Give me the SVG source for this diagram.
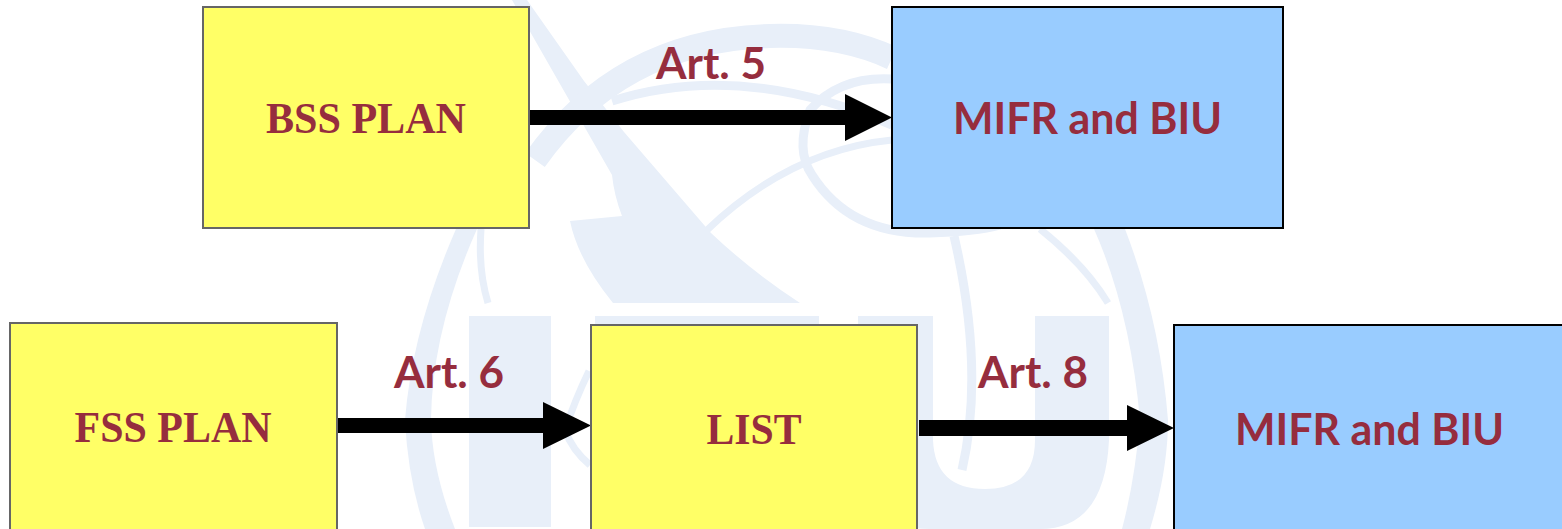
<svg xmlns="http://www.w3.org/2000/svg" width="1562" height="529" viewBox="0 0 1562 529">
<defs><style>
.wf{fill:#E8EFF9;stroke:none}
.ws{fill:none;stroke:#E8EFF9}
.y{fill:#FFFF66;stroke:#666666;stroke-width:2}
.b{fill:#99CCFF;stroke:#000000;stroke-width:2}
.a{fill:#000000;stroke:none}
text{fill:#962D3E;font-weight:700;text-anchor:middle}
.se{font-family:"Liberation Serif","Times New Roman",serif;font-size:44px}
.sa{font-family:Lato,"Liberation Sans",sans-serif;font-size:44px}
</style></defs>
<rect width="1562" height="529" fill="#FFFFFF"/>
<g id="watermark">
<path class="wf" d="M512 0L527 0L584 81L624 132L711 233Q750 270 800 303L613 303Q578 260 570 221L622 216Q614 195 612 175Z"/>
<path class="wf" d="M469 316H551V527H469ZM595 316H819V340H595ZM858 316H933V440Q935 489 985 489Q1035 489 1035 440V316H1109V440Q1105 529 1040 529H930Q858 529 858 440Z"/>
<path class="ws" stroke-width="24" d="M535 160Q620 40 770 36Q840 34 892 58"/>
<path class="ws" stroke-width="9" d="M612 101Q740 60 892 125"/>
<path class="ws" stroke-width="9" d="M892 79Q840 76 810 110Q795 150 812 175Q850 235 930 233Q975 232 1000 225"/>
<path class="ws" stroke-width="7" d="M706 231Q790 150 892 140"/>
<path class="wf" d="M456 229Q412 330 405 420Q408 480 425 529H455Q432 470 431 420Q432 330 477 229Z"/>
<path class="wf" d="M1094 229Q1130 310 1140 420Q1135 480 1122 529H1150Q1168 470 1168 420Q1160 320 1125 229Z"/>
<path class="ws" stroke-width="7" d="M481 229Q478 270 488 303"/>
<path class="ws" stroke-width="7" d="M1040 229Q1085 265 1108 303"/>
<path class="ws" stroke-width="9" d="M954 236Q985 370 962 470"/>
<path class="ws" stroke-width="7" d="M589 371Q575 400 565 430Q572 450 590 465"/>
</g>
<g id="connectors">
<path id="arrow-art5" class="a" d="M529 110H845V94L892 117.500L845 141V125H529Z"/>
<path id="arrow-art6" class="a" d="M337 418H543V402L591 425.500L543 449V433H337Z"/>
<path id="arrow-art8" class="a" d="M919 420H1127V405L1174 428L1127 451V436H919Z"/>
</g>
<g id="node-bss"><rect class="y" x="203" y="7" width="326" height="221"/><text class="se" x="366" y="133" textLength="200" lengthAdjust="spacingAndGlyphs">BSS PLAN</text></g>
<g id="node-mifr-top"><rect class="b" x="892" y="7" width="391" height="221"/><text class="sa" x="1087.500" y="134" textLength="269" lengthAdjust="spacingAndGlyphs">MIFR and BIU</text></g>
<g id="node-fss"><rect class="y" x="10" y="323" width="327" height="221"/><text class="se" x="173" y="442" textLength="197" lengthAdjust="spacingAndGlyphs">FSS PLAN</text></g>
<g id="node-list"><rect class="y" x="591" y="325" width="326" height="221"/><text class="se" x="754" y="444" textLength="95" lengthAdjust="spacingAndGlyphs">LIST</text></g>
<g id="node-mifr-bottom"><rect class="b" x="1174" y="325" width="400" height="221"/><text class="sa" x="1369.500" y="445" textLength="269" lengthAdjust="spacingAndGlyphs">MIFR and BIU</text></g>
<g id="labels">
<text class="sa" x="711" y="79">Art. 5</text>
<text class="sa" x="449" y="388">Art. 6</text>
<text class="sa" x="1033" y="388">Art. 8</text>
</g>
</svg>
